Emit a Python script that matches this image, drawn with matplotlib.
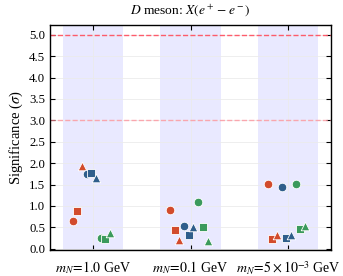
import numpy as np
import matplotlib
matplotlib.use("Agg")
import matplotlib.pyplot as plt

plt.rcParams['font.family'] = ['Liberation Serif', 'DejaVu Serif']
plt.rcParams['mathtext.fontset'] = 'stix'

# mass points (x categories)
labels = [r'$m_N\!=\!1.0$ GeV', r'$m_N\!=\!0.1$ GeV', r'$m_N\!=\!5 \times 10^{-3}$ GeV']

# significance per series, one value per mass point
red_circle = [0.65, 0.90, 1.52]
red_square = [0.87, 0.44, 0.23]
red_triangle = [1.94, 0.21, 0.32]
blue_circle = [1.74, 0.54, 1.43]
blue_square = [1.76, 0.31, 0.25]
blue_triangle = [1.66, 0.51, 0.33]
green_circle = [0.24, 1.09, 1.52]
green_square = [0.22, 0.51, 0.47]
green_triangle = [0.36, 0.17, 0.52]

red = '#d24b2c'
blue = '#2f5e8b'
green = '#3b9a5c'

series = [
    (red_circle, red, 'o'), (red_square, red, 's'), (red_triangle, red, '^'),
    (blue_circle, blue, 'o'), (blue_square, blue, 's'), (blue_triangle, blue, '^'),
    (green_circle, green, 'o'), (green_square, green, 's'), (green_triangle, green, '^'),
]

fig = plt.figure(figsize=(3.43, 2.76), dpi=100)
ax = fig.add_axes([0.146, 0.096, 0.819, 0.815])

x = np.arange(len(labels))
for xi in x:
    ax.axvspan(xi - 0.31, xi + 0.31, color='#0000ff', alpha=0.085, lw=0, zorder=0)

ax.axhline(5.0, color='#ff4d5e', ls='--', lw=1.0, alpha=0.9, zorder=1)
ax.axhline(3.0, color='#ff8a94', ls='--', lw=1.0, alpha=0.7, zorder=1)

offsets = -0.21 + 0.048 * np.arange(9)
for k, (vals, c, m) in enumerate(series):
    ax.scatter(x + offsets[k], vals, color=c, marker=m, s=38,
               edgecolor='white', linewidth=0.6, zorder=3)

ax.set_xlim(-0.44, 2.44)
ax.set_ylim(-0.02, 5.24)
ax.set_yticks(np.arange(0, 5.01, 0.5))
ax.set_yticklabels([f'{v:.1f}' for v in np.arange(0, 5.01, 0.5)])
ax.set_xticks(x)
ax.set_xticklabels(labels, fontsize=10)
ax.grid(True, color='#ebebeb', lw=0.6, zorder=0)
ax.set_axisbelow(True)
ax.tick_params(direction='in', top=True, right=True, length=3.5, width=0.8)
ax.tick_params(axis='y', labelsize=9.2)
ax.tick_params(axis='x', pad=7)
for s in ax.spines.values():
    s.set_linewidth(1.0)
ax.set_ylabel(r'Significance ($\sigma$)', fontsize=10.5, labelpad=3)
ax.set_title(r'$D$ meson: $X(e^+ - e^-)$', fontsize=9.7, pad=7)

fig.savefig('out.png', dpi=100)
